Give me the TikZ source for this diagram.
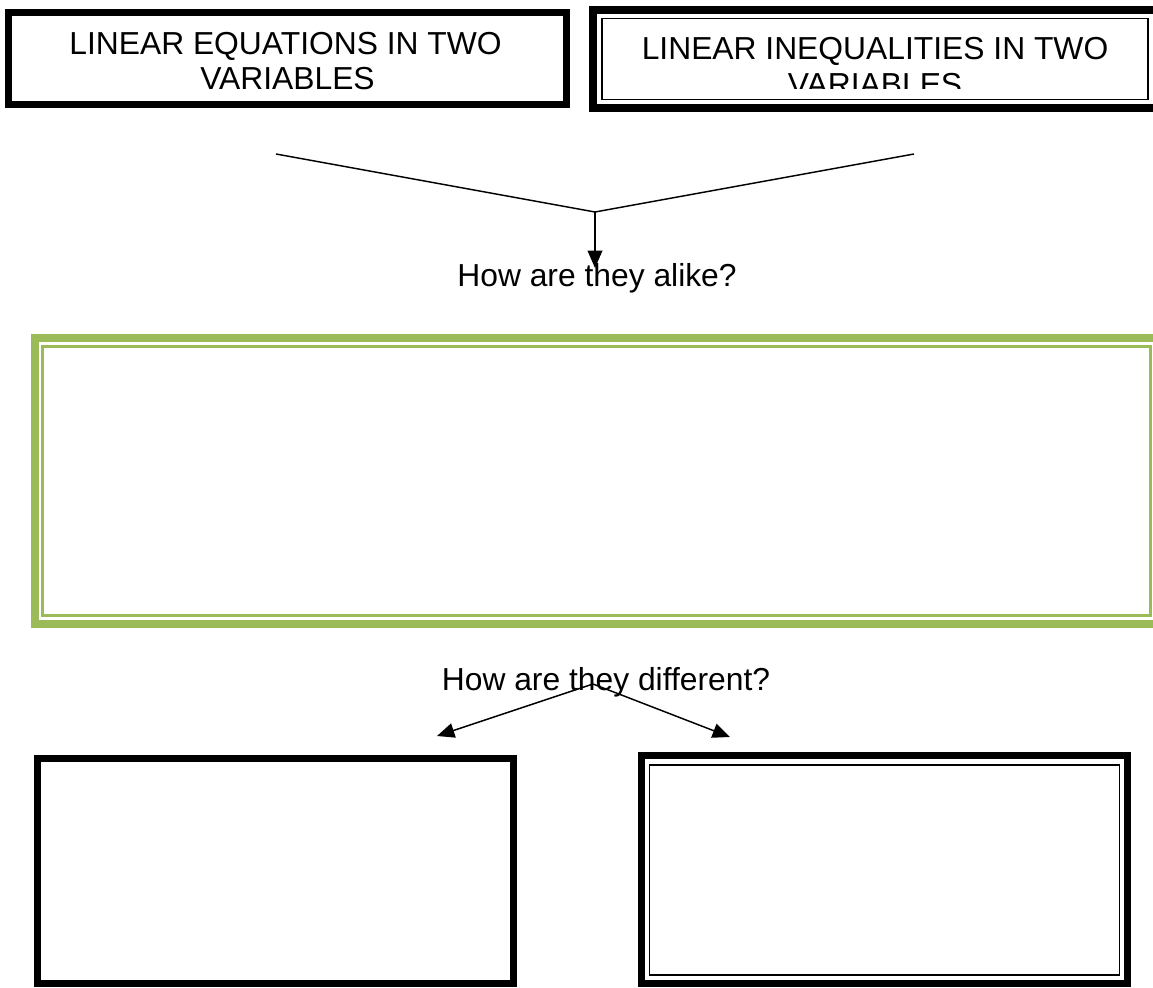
\documentclass[tikz,border=0pt]{standalone}
\usepackage{fontspec}
\setmainfont{Liberation Sans}
\usetikzlibrary{arrows.meta}
\definecolor{olivegreen}{HTML}{9BBB59}
\tikzset{
  lbl/.style={inner sep=0pt, anchor=base, font=\fontsize{23.85}{26.25}\selectfont},
  thickframe/.style={draw=black, line width=5.6pt},
  thinframe/.style={draw=black, line width=1.2pt},
  greenthick/.style={draw=olivegreen, line width=6pt},
  greenthin/.style={draw=olivegreen, line width=2.2pt},
  conn/.style={draw=black, line width=1.1pt},
  arr/.style={conn, -{Triangle[length=13pt, width=11pt]}}
}
\begin{document}
\begin{tikzpicture}[x=0.75pt, y=-0.75pt]
\clip (0,0) rectangle (1153,988);
\fill[white] (0,0) rectangle (1153,988);

% top-left box
\draw[thickframe] (8.75,12.75) rectangle (566.25,104.25);
\node[lbl] (eq1) at (285.5,55) {LINEAR EQUATIONS IN TWO};
\node[lbl] (eq2) at (287.5,90) {VARIABLES};

% top-right double box
\draw[thickframe, line width=6pt] (593,10) rectangle (1157,108);
\draw[thinframe] (602,18.5) rectangle (1148,99.5);
\node[lbl] (in1) at (875,60) {LINEAR INEQUALITIES IN TWO};
\begin{scope}
  \clip (603,19) rectangle (1147,89);
  \node[lbl] (in2) at (875,96) {VARIABLES};
\end{scope}

% connectors to "alike"
\coordinate (l1) at (276,154);
\coordinate (r1) at (914,154);
\coordinate (j1) at (595,212);
\coordinate (t1) at (595,268);
\draw[conn] (l1) -- (j1) -- (r1);
\draw[arr] (j1) -- (t1);
\node[lbl] (alike) at (597,286) {How are they alike?};

% green box
\draw[greenthick] (35,338) rectangle (1166,624);
\draw[greenthin] (42.5,346.5) rectangle (1150.5,615.5);

% different
\node[lbl] (diff) at (606,690) {How are they different?};
\coordinate (apex) at (593,684);
\coordinate (tl) at (437,736);
\coordinate (tr) at (730,737);
\draw[arr] (apex) -- (tl);
\draw[arr] (apex) -- (tr);

% bottom-left box
\draw[thickframe, line width=5.3pt] (37.5,758.5) rectangle (513.5,983.5);

% bottom-right double box
\draw[thickframe, line width=5.6pt] (641.5,755.5) rectangle (1127.5,983.5);
\draw[thinframe, line width=1.4pt] (649.5,765) rectangle (1119.5,975);
\end{tikzpicture}
\end{document}
